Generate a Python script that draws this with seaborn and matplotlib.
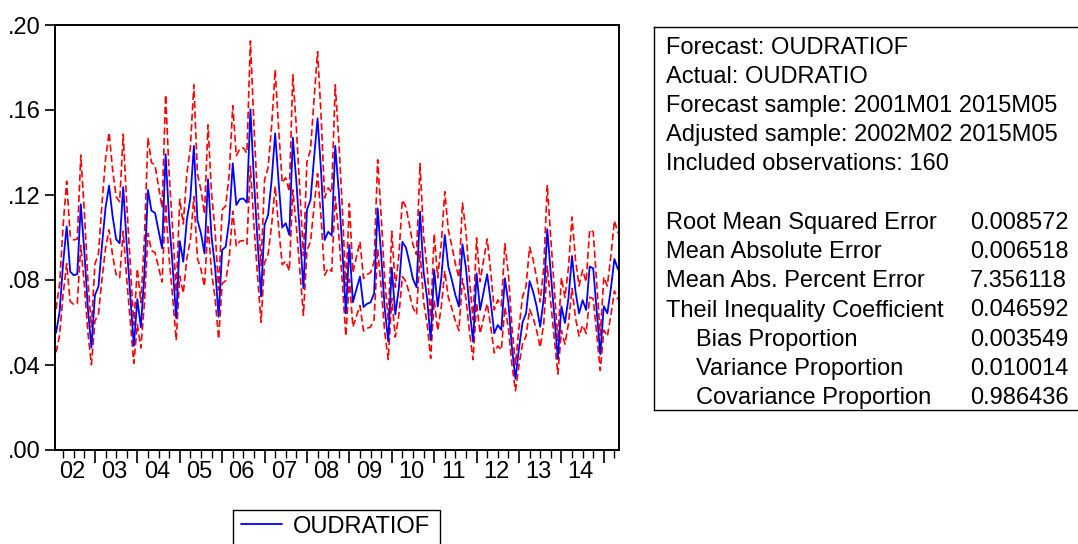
import numpy as np
import pandas as pd
import matplotlib
matplotlib.use('Agg')
import matplotlib.pyplot as plt
from matplotlib.lines import Line2D
from matplotlib.patches import Rectangle
import seaborn as sns

# ── Data ─────────────────────────────────────────────────────────────────────

START = '2002-02'
forecast = [
    0.0552, 0.0650, 0.0880, 0.1053, 0.0839, 0.0823, 0.0827, 0.1156, 0.0935, 0.0667,
    0.0482, 0.0729, 0.0769, 0.0965, 0.1140, 0.1244, 0.1100, 0.0992, 0.0973, 0.1237,
    0.0965, 0.0729, 0.0490, 0.0710, 0.0577, 0.0830, 0.1224, 0.1126, 0.1116, 0.1033,
    0.0949, 0.1392, 0.1082, 0.0863, 0.0620, 0.0983, 0.0886, 0.1082, 0.1184, 0.1431,
    0.1082, 0.1020, 0.0925, 0.1274, 0.1004, 0.0860, 0.0627, 0.0941, 0.0957, 0.1080,
    0.1349, 0.1153, 0.1180, 0.1184, 0.1164, 0.1603, 0.1270, 0.0988, 0.0722, 0.1059,
    0.1106, 0.1270, 0.1490, 0.1255, 0.1047, 0.1067, 0.1012, 0.1470, 0.1263, 0.1012,
    0.0761, 0.1130, 0.1176, 0.1373, 0.1561, 0.1310, 0.0988, 0.1027, 0.1009, 0.1431,
    0.1216, 0.0949, 0.0643, 0.0965, 0.0695, 0.0757, 0.0816, 0.0673, 0.0688, 0.0695,
    0.0737, 0.1137, 0.0918, 0.0667, 0.0512, 0.0857, 0.0638, 0.0761, 0.0980, 0.0953,
    0.0882, 0.0804, 0.0766, 0.1122, 0.0839, 0.0714, 0.0518, 0.0847, 0.0675, 0.0808,
    0.1012, 0.0863, 0.0800, 0.0729, 0.0675, 0.0968, 0.0855, 0.0667, 0.0510, 0.0831,
    0.0659, 0.0745, 0.0827, 0.0698, 0.0549, 0.0588, 0.0565, 0.0808, 0.0690, 0.0483,
    0.0335, 0.0480, 0.0600, 0.0643, 0.0795, 0.0745, 0.0675, 0.0580, 0.0714, 0.1039,
    0.0830, 0.0630, 0.0429, 0.0676, 0.0598, 0.0714, 0.0913, 0.0745, 0.0643, 0.0705,
    0.0659, 0.0863, 0.0855, 0.0650, 0.0450, 0.0677, 0.0643, 0.0760, 0.0899, 0.0850,
]
# +/- 2 S.E. of the log forecast (the bands are f*exp(+-2se))
two_se = 0.183

y_ticks = [0.00, 0.04, 0.08, 0.12, 0.16, 0.20]

info_lines = [
    'Forecast: OUDRATIOF',
    'Actual: OUDRATIO',
    'Forecast sample: 2001M01 2015M05',
    'Adjusted sample: 2002M02 2015M05',
    'Included observations: 160',
]
stat_names = [
    'Root Mean Squared Error',
    'Mean Absolute Error',
    'Mean Abs. Percent Error',
    'Theil Inequality Coefficient',
    'Bias Proportion',
    'Variance Proportion',
    'Covariance Proportion',
]
stat_indent = [0, 0, 0, 0, 1, 1, 1]
stat_values = ['0.008572', '0.006518', '7.356118', '0.046592',
               '0.003549', '0.010014', '0.986436']

# ── Setup ─────────────────────────────────────────────────────────────────────

sns.set_theme(style='white')
plt.rcParams['font.family'] = ['Liberation Sans', 'DejaVu Sans']
plt.rcParams['lines.scale_dashes'] = False
for key in ['text.color', 'axes.labelcolor', 'xtick.color', 'ytick.color']:
    plt.rcParams[key] = 'black'
FS = 17
RED_DASH = (0, (5, 2.5))

W, H = 1078, 544
fig = plt.figure(figsize=(W / 100, H / 100), dpi=100)
ax = fig.add_axes([55 / W, 1 - 450 / H, 564 / W, 425 / H])

df = pd.DataFrame({'f': forecast})
df['date'] = pd.period_range(START, periods=len(df), freq='M')
df['i'] = np.arange(len(df))
df['upper'] = df['f'] * np.exp(two_se)
df['lower'] = df['f'] * np.exp(-two_se)

sns.lineplot(data=df, x='i', y='upper', color='#ff0000', lw=1.2,
             linestyle=RED_DASH, ax=ax)
sns.lineplot(data=df, x='i', y='lower', color='#ff0000', lw=1.2,
             linestyle=RED_DASH, ax=ax)
sns.lineplot(data=df, x='i', y='f', color='#0000ff', lw=1.3, ax=ax)

ax.set_xlim(-0.3, len(df) - 0.7)
ax.set_ylim(0, 0.20)
ax.set_xlabel('')
ax.set_ylabel('')
for s in ax.spines.values():
    s.set_color('black')
    s.set_linewidth(1.4)

# y axis
ax.set_yticks(y_ticks)
ax.set_yticklabels([f'{v:.2f}'.lstrip('0') for v in y_ticks], fontsize=FS)
ax.tick_params(axis='y', direction='out', length=7, width=1.2, pad=3,
               left=True)

# x axis: year boundaries (long), quarters (short), year labels centred
months = df['date'].dt.month.values
years = df['date'].dt.year.values
year_bounds = df['i'][months == 1].values
quarters = df['i'][np.isin(months, [4, 7, 10])].values
ax.set_xticks(year_bounds)
ax.set_xticklabels([])
ax.set_xticks(quarters, minor=True)
ax.tick_params(axis='x', which='major', direction='out', length=9, width=1.2,
               bottom=True)
ax.tick_params(axis='x', which='minor', direction='out', length=6, width=1.0,
               bottom=True)

full_years = [y for y in np.unique(years) if (months[years == y] == 12).any()]
centers = [df['i'][(years == y)].values[-1] - 5.5 for y in full_years]
sec = ax.secondary_xaxis('bottom')
sec.set_xticks(centers)
sec.set_xticklabels([f'{y % 100:02d}' for y in full_years], fontsize=FS)
sec.tick_params(length=0, pad=8)
sec.spines['bottom'].set_visible(False)

# legend: the frame runs past the bottom edge of the picture, as in the original
fig.patches.append(Rectangle((233 / W, 1 - 575 / H), 207 / W, 65 / H,
                             transform=fig.transFigure, fill=False,
                             edgecolor='black', lw=1.0))
handles = [Line2D([], [], color='#0000ff', lw=1.3)]
fig.legend(handles, ['OUDRATIOF'], loc='upper left',
           bbox_to_anchor=(236 / W, 1 - 511 / H), fontsize=FS,
           frameon=False, handlelength=1.75, handletextpad=0.45,
           borderpad=0.2, borderaxespad=0)

# ── Statistics panel ─────────────────────────────────────────────────────────

box_top, box_bot = 27, 410
tx = fig.add_axes([654 / W, 1 - box_bot / H, 460 / W, (box_bot - box_top) / H])
tx.set_xticks([])
tx.set_yticks([])
for s in tx.spines.values():
    s.set_color('black')
    s.set_linewidth(1.0)

def ypos(k):
    return 1 - (47.7 + 29.2 * k - box_top) / (box_bot - box_top)

for k, line in enumerate(info_lines):
    tx.text(12 / 460, ypos(k), line, fontsize=FS, va='center', ha='left',
            transform=tx.transAxes)
for k, (name, ind, val) in enumerate(zip(stat_names, stat_indent, stat_values)):
    tx.text((12 + 30 * ind) / 460, ypos(k + 6), name, fontsize=FS,
            va='center', ha='left', transform=tx.transAxes)
    tx.text(316 / 460, ypos(k + 6), val, fontsize=FS, va='center', ha='left',
            transform=tx.transAxes)

fig.savefig('out.png', dpi=100)
